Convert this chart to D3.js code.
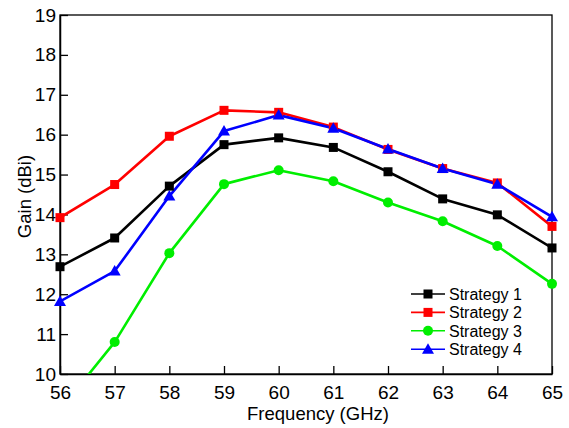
<!DOCTYPE html>
<html><head><meta charset="utf-8">
<script src="https://cdn.jsdelivr.net/npm/d3@7"></script>
<style>body{margin:0;background:#fff}svg{display:block}text{font-family:"Liberation Sans",Arial,sans-serif;fill:#000}</style>
</head><body><svg id="c" width="569" height="428"></svg>
<script>
const freqs = [56,57,58,59,60,61,62,63,64,65];
const strategy1 = [12.69,13.41,14.71,15.75,15.92,15.68,15.07,14.39,13.99,13.16];
const strategy2 = [13.92,14.75,15.96,16.61,16.56,16.19,15.63,15.15,14.79,13.70];
const strategy3 = [9.10,10.80,13.03,14.76,15.11,14.83,14.30,13.83,13.21,12.26];
const strategy4 = [11.82,12.58,14.46,16.09,16.49,16.16,15.64,15.15,14.76,13.94];
const seriesNames = ["Strategy 1","Strategy 2","Strategy 3","Strategy 4"];
const seriesColors = ["#000000","#ff0000","#00ee00","#0000ff"];
const seriesMarkers = ["square","square","circle","triangle"];
const yTicks = [10,11,12,13,14,15,16,17,18,19];

const svg = d3.select("#c");
const m = {l:60, t:15, r:17, b:54};
const W = 569 - m.l - m.r, H = 428 - m.t - m.b;
const x = d3.scaleLinear().domain([56,65]).range([m.l, m.l+W]);
const y = d3.scaleLinear().domain([10,19]).range([m.t+H, m.t]);

svg.append("defs").append("clipPath").attr("id","clip")
  .append("rect").attr("x",m.l).attr("y",m.t).attr("width",W).attr("height",H);

// frame
svg.append("rect").attr("x",m.l).attr("y",m.t).attr("width",W).attr("height",H)
  .attr("fill","none").attr("stroke","#000").attr("stroke-width",1.3);

// axes
const xAxis = svg.append("g").attr("transform",`translate(0,${m.t+H})`)
  .call(d3.axisBottom(x).tickValues(freqs).tickSizeInner(-8).tickSizeOuter(0).tickPadding(12).tickFormat(d3.format("d")));
const yAxis = svg.append("g").attr("transform",`translate(${m.l},0)`)
  .call(d3.axisLeft(y).tickValues(yTicks).tickSizeInner(-8).tickSizeOuter(0).tickPadding(4).tickFormat(d3.format("d")));
[xAxis,yAxis].forEach(a=>{
  a.select(".domain").attr("stroke","#000").attr("stroke-width",1.5);
  a.selectAll(".tick line").attr("stroke","#000").attr("stroke-width",1.3);
  a.selectAll(".tick text").attr("font-size",19).attr("font-family","'Liberation Sans',Arial,sans-serif").attr("fill","#000");
});

svg.append("text").attr("x",318).attr("y",420).attr("text-anchor","middle").attr("font-size",18.5).text("Frequency (GHz)");
svg.append("text").attr("transform",`translate(31,${m.t+H/2+2}) rotate(-90)`).attr("text-anchor","middle").attr("font-size",18.5).text("Gain (dBi)");

const all = [strategy1,strategy2,strategy3,strategy4];
const line = d3.line().x((d,i)=>x(freqs[i])).y(d=>y(d));
const plot = svg.append("g").attr("clip-path","url(#clip)");
const marks = svg.append("g");

function marker(g, type, cx, cy, color){
  if(type==="square") g.append("rect").attr("x",cx-4.5).attr("y",cy-4.5).attr("width",9).attr("height",9).attr("fill",color);
  else if(type==="circle") g.append("circle").attr("cx",cx).attr("cy",cy).attr("r",5).attr("fill",color);
  else g.append("path").attr("d",`M${cx},${cy-6}L${cx+6},${cy+4.5}L${cx-6},${cy+4.5}Z`).attr("fill",color);
}

all.forEach((vals,k)=>{
  plot.append("path").datum(vals).attr("d",line).attr("fill","none")
    .attr("stroke",seriesColors[k]).attr("stroke-width",2.6).attr("stroke-linejoin","round");
  vals.forEach((v,i)=>{ if(v>=10 && v<=19) marker(marks, seriesMarkers[k], x(freqs[i]), y(v), seriesColors[k]); });
});

// legend
const lg = svg.append("g");
seriesNames.forEach((n,k)=>{
  const ly = 294 + k*18.4;
  lg.append("line").attr("x1",411).attr("x2",445).attr("y1",ly).attr("y2",ly)
    .attr("stroke",seriesColors[k]).attr("stroke-width",1.6);
  marker(lg, seriesMarkers[k], 428, ly, seriesColors[k]);
  lg.append("text").attr("x",449).attr("y",ly+6).attr("font-size",16).text(n);
});
</script></body></html>
